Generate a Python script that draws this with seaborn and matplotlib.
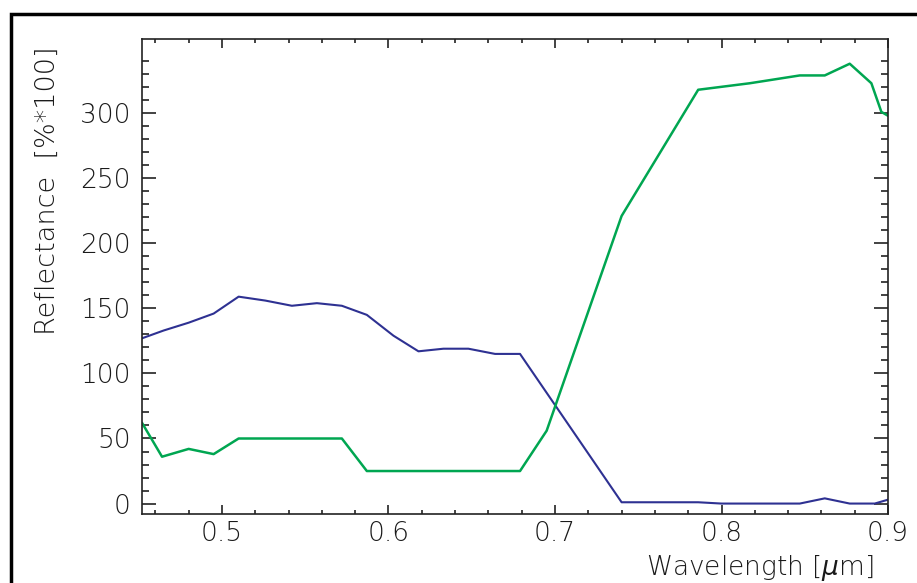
import seaborn as sns
import matplotlib.pyplot as plt
from matplotlib.patches import Rectangle
from matplotlib.ticker import FixedLocator

sns.set_theme(style="ticks")
plt.rcParams['font.family'] = ['DejaVu Sans']
plt.rcParams['font.weight'] = 'light'
plt.rcParams['mathtext.fontset'] = 'custom'
plt.rcParams['mathtext.it'] = 'DejaVu Sans:italic:light'
plt.rcParams['mathtext.rm'] = 'DejaVu Sans:light'

# blue curve
blue_wl = [0.452, 0.465, 0.480, 0.495, 0.510, 0.526, 0.542, 0.557, 0.572, 0.587,
           0.603, 0.618, 0.633, 0.648, 0.664, 0.679, 0.740, 0.786, 0.800, 0.847,
           0.862, 0.877, 0.892, 0.900]
blue_refl = [127, 133, 139, 146, 159, 156, 152, 154, 152, 145,
             129, 117, 119, 119, 115, 115, 1, 1, 0, 0,
             4, 0, 0, 3]

# green curve
green_wl = [0.452, 0.464, 0.480, 0.495, 0.510, 0.572, 0.587, 0.679, 0.695, 0.740,
            0.786, 0.817, 0.847, 0.862, 0.877, 0.890, 0.896, 0.900]
green_refl = [62, 36, 42, 38, 50, 50, 25, 25, 56, 221,
              318, 323, 329, 329, 338, 323, 301, 298]

x_major = [0.5, 0.6, 0.7, 0.8, 0.9]
x_labels = ['0.5', '0.6', '0.7', '0.8', '0.9']
x_minor = [0.46, 0.48, 0.52, 0.54, 0.56, 0.58, 0.62, 0.64, 0.66, 0.68,
           0.72, 0.74, 0.76, 0.78, 0.82, 0.84, 0.86, 0.88]
y_major = [0, 50, 100, 150, 200, 250, 300]
y_minor = [10, 20, 30, 40, 60, 70, 80, 90, 110, 120, 130, 140, 160, 170, 180, 190,
           210, 220, 230, 240, 260, 270, 280, 290, 310, 320, 330, 340]

fig = plt.figure(figsize=(9.17, 5.83), dpi=100)
ax = fig.add_axes([0.1549, 0.1184, 0.8135, 0.8147])

sns.lineplot(x=blue_wl, y=blue_refl, color='#2e3192', lw=1.5, ax=ax)
sns.lineplot(x=green_wl, y=green_refl, color='#00a651', lw=1.8, ax=ax)

ax.set_xlim(0.452, 0.9)
ax.set_ylim(-8, 357)
ax.set_xticks(x_major)
ax.set_xticklabels(x_labels)
ax.xaxis.set_minor_locator(FixedLocator(x_minor))
ax.set_yticks(y_major)
ax.yaxis.set_minor_locator(FixedLocator(y_minor))

ax.tick_params(axis='both', which='both', direction='in', top=True, right=True,
               color='#222222', width=1.2, labelcolor='#1a1a1a', labelsize=19)
ax.tick_params(axis='y', which='major', length=10, pad=8)
ax.tick_params(axis='y', which='minor', length=4.7)
ax.tick_params(axis='x', which='major', length=6.5, pad=5)
ax.tick_params(axis='x', which='minor', length=3)
for s in ax.spines.values():
    s.set_visible(True)
    s.set_linewidth(1.2)
    s.set_color('#222222')

ax.set_ylabel('Reflectance  [%*100]', fontsize=19.5, color='#1a1a1a', fontweight='light')
ax.yaxis.set_label_coords(-0.11, 0.68)
ax.set_xlabel(r'Wavelength [$\mu$m]', fontsize=19, color='#1a1a1a', fontweight='light')
ax.xaxis.set_label_coords(0.828, -0.082)

# outer frame of the figure
fig.add_artist(Rectangle((10.5 / 917, -0.1), 1.2, 1.1 - 14 / 583,
                         transform=fig.transFigure, fill=False,
                         lw=2.5, edgecolor='black', clip_on=False))

fig.savefig('out.png', dpi=100)
